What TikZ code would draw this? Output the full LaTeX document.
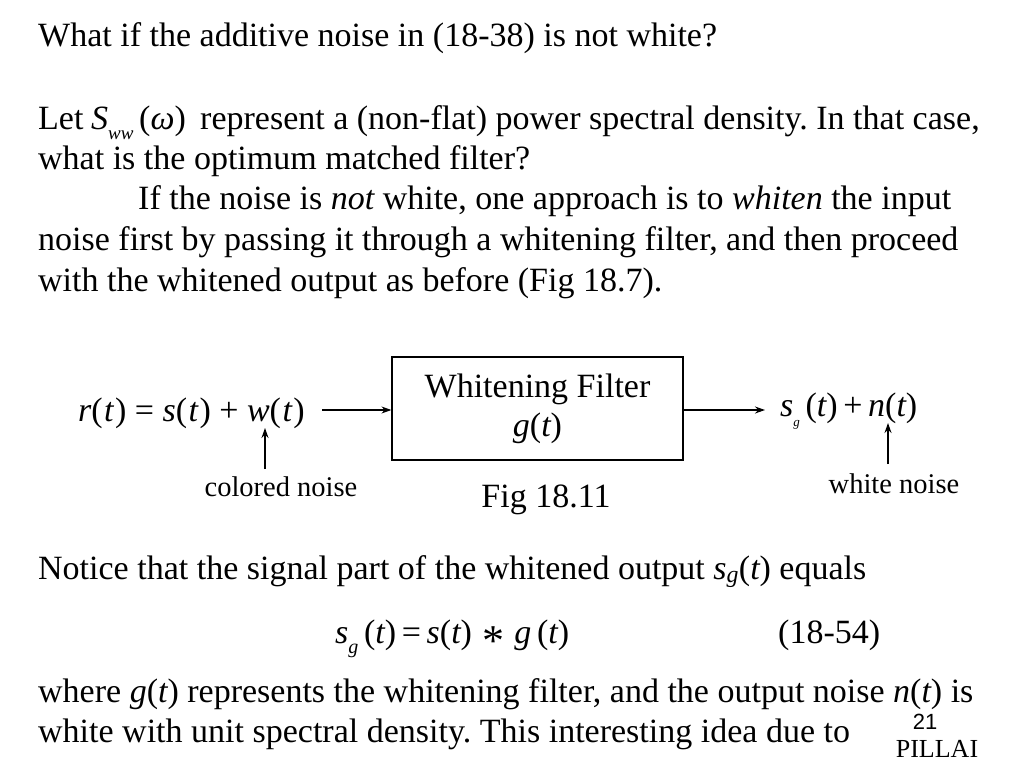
\documentclass[tikz,border=0pt]{standalone}
\usepackage{fontspec}
\setmainfont{Liberation Serif}
\newfontfamily\arialf{Liberation Sans}
\usetikzlibrary{arrows.meta}
\frenchspacing
\newcommand{\mi}[1]{{\itshape #1}}
\newcommand{\pa}[1]{(\kern1.5pt\mi{#1}\kern1.5pt)}
\newcommand{\sop}[1]{\hspace{0.25em}#1\hspace{0.25em}}
\begin{document}
\begin{tikzpicture}[x=1pt,y=-1pt,
  txt/.style={anchor=base west,inner sep=0pt,font=\fontsize{34}{40}\selectfont},
  mth/.style={anchor=base west,inner sep=0pt,font=\fontsize{34}{40}\selectfont},
  lbl/.style={anchor=base,inner sep=0pt,font=\fontsize{28.5}{32}\selectfont},
  box/.style={draw,line width=1.2pt,minimum width=291pt,minimum height=103pt,align=center,font=\fontsize{34}{39}\selectfont},
  arr/.style={line width=1.2pt,-{Stealth[length=10pt,width=7pt]}}]
\useasboundingbox (0,0) rectangle (1024,768);
\node[txt] (l1) at (38,46) {What if the additive noise in (18-38) is not white?};
\node[txt] (l2a) at (38,129) {Let};
\node[mth] (l2b) at (91,129) {\mi{S}\raisebox{-0.3em}{\fontsize{19}{19}\selectfont\itshape ww}\,(\mi{ω})};
\node[txt] (l2c) at (200,129) {represent a (non-flat) power spectral density. In that case,};
\node[txt] (l3) at (38,169) {what is the optimum matched filter?};
\node[txt] (l4) at (138,209) {If the noise is \mi{not} white, one approach is to \mi{whiten} the input};
\node[txt] (l5) at (38,250) {noise first by passing it through a whitening filter, and then proceed};
\node[txt] (l6) at (38,291) {with the whitened output as before (Fig 18.7).};

\node[box] (filter) at (537.5,408.5) {Whitening Filter\\\mi{g}(\mi{t})};
\node[mth,anchor=base east] (inp) at (305,421) {\mi{r}\pa{t}\sop{=}\mi{s}\pa{t}\sop{+}\mi{w}\pa{t}};
\node[mth] (outp) at (780,416) {\mi{s}\raisebox{-0.3em}{\fontsize{13}{13}\selectfont\itshape g}\,(\mi{t})\,+\,\mi{n}(\mi{t})};
\coordinate (inS) at (322,410);
\coordinate (outE) at (765,410);
\draw[arr] (inS) -- (inS -| filter.west);
\draw[arr] (inS -| filter.east) -- (outE);
\coordinate (cnB) at (265,469);
\coordinate (cnT) at (265,428);
\coordinate (wnB) at (888,464);
\coordinate (wnT) at (888,423);
\draw[arr] (cnB) -- (cnT);
\draw[arr] (wnB) -- (wnT);
\node[lbl] (cn) at (281,496) {colored noise};
\node[lbl] (wn) at (894,493) {white noise};
\node[lbl,font=\fontsize{34}{38}\selectfont] (fig) at (546,507) {Fig 18.11};

\node[txt] (l7) at (38,579) {Notice that the signal part of the whitened output \mi{s}\textsubscript{\mi{g}}(\mi{t}) equals};
\node[mth] (eq) at (335,643) {\mi{s}\raisebox{-0.3em}{\fontsize{20}{20}\selectfont\itshape g}\,(\mi{t})\,=\,\mi{s}(\mi{t})\hspace{0.3em}\raisebox{-0.38em}{\fontsize{44}{44}\selectfont *}\hspace{0.3em}\mi{g}\,(\mi{t})};
\node[mth] (eqn) at (778,643) {(18-54)};
\node[txt] (l8) at (38,702) {where \mi{g}(\mi{t}) represents the whitening filter, and the output noise \mi{n}(\mi{t}) is};
\node[txt] (l9) at (38,742) {white with unit spectral density. This interesting idea due to};
\node[anchor=base,inner sep=0pt,font=\arialf\fontsize{22}{24}\selectfont] (pg) at (925,729) {21};
\node[anchor=base,inner sep=0pt,font=\fontsize{26}{28}\selectfont] (au) at (937,757) {PILLAI};
\end{tikzpicture}
\end{document}
